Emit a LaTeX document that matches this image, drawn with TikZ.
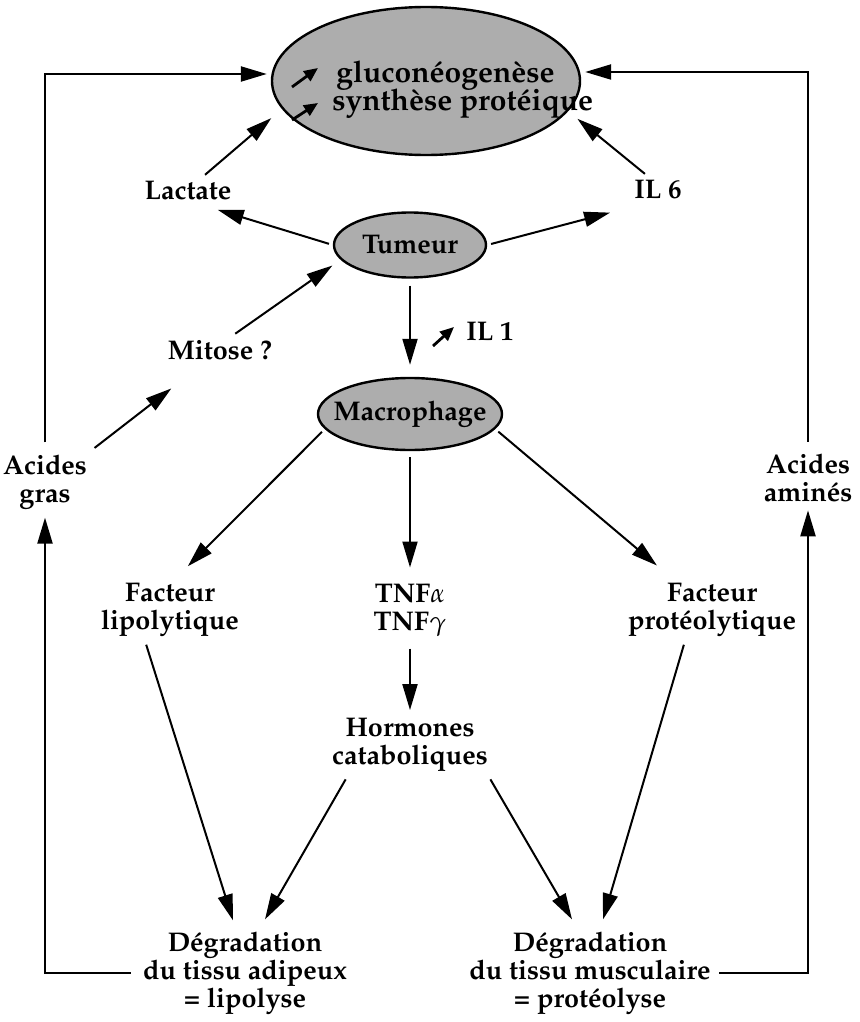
\documentclass[tikz,border=0pt]{standalone}
\usepackage[T1]{fontenc}
\usepackage{mathpazo}
\usetikzlibrary{arrows.meta, positioning, shapes.geometric}

\tikzset{
  etiq/.style={font=\fontsize{13.5}{14}\selectfont\bfseries, align=center, inner sep=2pt},
  grand/.style={etiq, font=\fontsize{15}{16}\selectfont\bfseries},
  bulle/.style={ellipse, draw, line width=1.2pt, fill=black!32, inner sep=0pt},
  fleche/.style={line width=1pt, -{Triangle[length=13pt,width=7.5pt]}, shorten >=2pt, shorten <=2pt},
  cadre/.style={fleche, line width=1.1pt},
  petite/.style={line width=1.4pt, -{Triangle[length=7pt,width=6pt]}},
}

\begin{document}
\begin{tikzpicture}[x=0.5pt, y=-0.5pt]
  \useasboundingbox (0,0) rectangle (859,1022);

  % metabolisme hepatique
  \node[bulle, minimum width=154pt, minimum height=74pt] (synth) at (426,81) {};
  \node[grand, anchor=base west] (gluco) at (332,83) {glucon\'eogen\`ese};
  \node[grand, anchor=base west] (prot) at (328,111) {synth\`ese prot\'eique};
  \draw[petite] ([shift={(-40,4)}]gluco.base west) -- ([shift={(-14,-15)}]gluco.base west);
  \draw[petite] ([shift={(-36,9)}]prot.base west) -- ([shift={(-10,-8)}]prot.base west);

  % tumeur et macrophage
  \node[etiq] (lact) at (188,191) {Lactate};
  \node[etiq] (ilsix) at (658,190) {IL 6};
  \node[bulle, minimum width=76pt, minimum height=32.5pt, label={[etiq]center:Tumeur}] (tum) at (410,245) {};
  \node[etiq] (mitose) at (220,350) {Mitose~?};
  \node[etiq, anchor=base west] (ilun) at (462,340) {IL 1};
  \draw[petite] ([shift={(-29,6)}]ilun.base west) -- ([shift={(-8,-13)}]ilun.base west);
  \node[bulle, minimum width=92pt, minimum height=36pt, label={[etiq]center:Macrophage}] (macro) at (410,414) {};

  % acides
  \node[etiq] (gras) at (45,482) {Acides\\gras};
  \node[etiq] (amin) at (808,478) {Acides\\amin\'es};

  % facteurs
  \node[etiq] (lipo) at (170,610) {Facteur\\lipolytique};
  \node[etiq] (tnf) at (410,610) {TNF$\alpha$\\TNF$\gamma$};
  \node[etiq] (proteo) at (712,610) {Facteur\\prot\'eolytique};
  \node[etiq] (horm) at (410,745) {Hormones\\cataboliques};

  % degradations
  \node[etiq] (adip) at (245,973) {D\'egradation\\du tissu adipeux\\= lipolyse};
  \node[etiq] (musc) at (590,973) {D\'egradation\\du tissu musculaire\\= prot\'eolyse};

  % fleches
  \draw[fleche, shorten >=7pt] ([xshift=7pt]lact.north) -- (synth.191);
  \draw[fleche, shorten >=6pt] ([xshift=-5pt]ilsix.north) -- (synth.348);
  \draw[fleche] (tum.west) -- ([shift={(-22,4)}]lact.south east);
  \draw[fleche] (tum.east) -- ([shift={(-16,8)}]ilsix.south west);
  \draw[fleche] (gras.north east) -- ([shift={(11,22)}]mitose.south west);
  \draw[fleche, shorten >=5pt] ([xshift=6pt]mitose.north) -- (tum.192);
  \draw[fleche, shorten <=3.5pt, shorten >=6pt] (tum) -- (macro);
  \draw[fleche] (macro.190) -- ([shift={(15,-10)}]lipo.north);
  \draw[fleche, shorten <=3pt, shorten >=6pt] (macro) -- (tnf);
  \draw[fleche] (macro.350) -- ([shift={(-52,-11)}]proteo.north);
  \draw[fleche, shorten >=0pt] ([xshift=-12.5pt]lipo.south) -- ([shift={(-12,-7)}]adip.north);
  \draw[fleche, shorten <=4pt] (tnf) -- (horm);
  \draw[fleche, shorten >=0pt] ([xshift=10pt]horm.south west) -- ([shift={(20,-8)}]adip.north);
  \draw[fleche, shorten >=0pt] ([xshift=-2pt]horm.south east) -- ([shift={(-18,-8)}]musc.north);
  \draw[fleche, shorten >=0pt] ([xshift=-13.5pt]proteo.south) -- ([shift={(13,-8)}]musc.north);

  % retour vers le foie
  \draw[cadre, shorten <=4pt] (adip.west) -| (gras.south);
  \draw[cadre, shorten <=4pt] (gras.north) |- ([yshift=3.5pt]synth.west);
  \draw[cadre] (musc.east) -| (amin.south);
  \draw[cadre, shorten <=4pt] (amin.north) |- ([yshift=4.5pt]synth.east);
\end{tikzpicture}
\end{document}
